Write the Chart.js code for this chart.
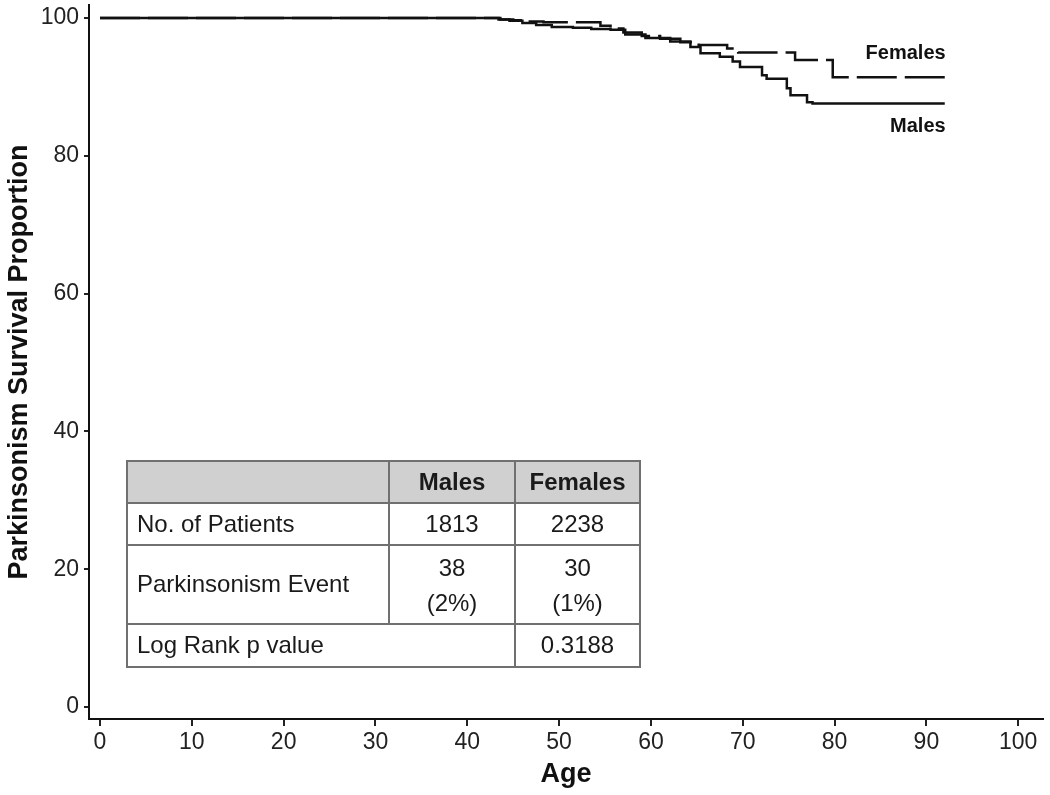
<!DOCTYPE html>
<html>
<head>
<meta charset="utf-8">
<script src="https://cdn.jsdelivr.net/npm/chart.js@4"></script>
<style>
  body { margin: 0; background: #fff; }
  #wrap { position: relative; width: 1050px; height: 795px; }
</style>
</head>
<body>
<div id="wrap"><canvas id="kmChart" width="1050" height="795"></canvas></div>
<script>
// Du lieu doc tu hinh (tuoi, ty le song sot)
const maleAges = [0, 43.4, 44.6, 46, 47.5, 49.2, 51.5, 53.5, 55.6, 57.2, 59.4, 62.1, 64.3, 65.4, 67.5, 68.9, 69.7, 72.1, 72.6, 74.8, 75.2, 77, 77.6, 92];
const maleSurv = [100, 99.8, 99.6, 99.3, 99.0, 98.7, 98.6, 98.4, 98.3, 97.6, 97.1, 96.6, 95.8, 94.9, 94.4, 93.7, 92.9, 91.7, 91.2, 89.8, 88.8, 87.8, 87.6, 87.6];
const femaleAges = [0, 43.6, 45, 46.5, 48.3, 54.5, 55.6, 57, 59, 61, 63.2, 65.2, 68.3, 69.5, 75.7, 79.8, 92];
const femaleSurv = [100, 99.8, 99.7, 99.5, 99.4, 98.9, 98.5, 97.9, 97.4, 97.0, 96.5, 96.1, 95.6, 95.0, 93.9, 91.4, 91.4];

const xTicks = [0, 10, 20, 30, 40, 50, 60, 70, 80, 90, 100];
const yTicks = [0, 20, 40, 60, 80, 100];

// Bang tom tat
const tableHeader = ["", "Males", "Females"];
const rowLabels = ["No. of Patients", "Parkinsonism Event", "Log Rank p value"];
const patients = ["1813", "2238"];
const events = ["38", "30"];
const eventPct = ["(2%)", "(1%)"];
const pValue = "0.3188";

const FONT = "'Liberation Sans', Arial, Helvetica, sans-serif";

function toPoints(xs, ys) {
    return xs.map((x, i) => ({ x: x, y: ys[i] }));
}

// Ve nhan duong va bang
const annotations = {
    id: "annotations",
    afterDraw(chart) {
        const ctx = chart.ctx;
        const xs = chart.scales.x;
        const ys = chart.scales.y;
        ctx.save();

        // nhan Females / Males
        ctx.fillStyle = "#111";
        ctx.font = "bold 20px " + FONT;
        ctx.textAlign = "right";
        ctx.textBaseline = "middle";
        ctx.fillText("Females", xs.getPixelForValue(92.1), ys.getPixelForValue(94.9));
        ctx.fillText("Males", xs.getPixelForValue(92.1), ys.getPixelForValue(84.2));

        // bang
        const colX = [127, 389, 515, 640];
        const rowY = [461, 503, 545, 624, 667];
        ctx.fillStyle = "#d0d0d0";
        ctx.fillRect(colX[0], rowY[0], colX[3] - colX[0], rowY[1] - rowY[0]);
        ctx.fillStyle = "#fff";
        ctx.fillRect(colX[0], rowY[1], colX[3] - colX[0], rowY[4] - rowY[1]);

        ctx.strokeStyle = "#707070";
        ctx.lineWidth = 2;
        ctx.strokeRect(colX[0], rowY[0], colX[3] - colX[0], rowY[4] - rowY[0]);
        ctx.beginPath();
        for (let r = 1; r < 4; r++) {
            ctx.moveTo(colX[0], rowY[r]);
            ctx.lineTo(colX[3], rowY[r]);
        }
        ctx.moveTo(colX[1], rowY[0]);
        ctx.lineTo(colX[1], rowY[3]);
        ctx.moveTo(colX[2], rowY[0]);
        ctx.lineTo(colX[2], rowY[4]);
        ctx.stroke();

        const mid = (a, b) => (a + b) / 2;
        ctx.fillStyle = "#1a1a1a";
        ctx.textBaseline = "middle";

        ctx.font = "bold 24px " + FONT;
        ctx.textAlign = "center";
        ctx.fillText(tableHeader[1], mid(colX[1], colX[2]), mid(rowY[0], rowY[1]) + 1);
        ctx.fillText(tableHeader[2], mid(colX[2], colX[3]), mid(rowY[0], rowY[1]) + 1);

        ctx.font = "24px " + FONT;
        ctx.textAlign = "left";
        ctx.fillText(rowLabels[0], colX[0] + 10, mid(rowY[1], rowY[2]) + 1);
        ctx.fillText(rowLabels[1], colX[0] + 10, mid(rowY[2], rowY[3]) + 1);
        ctx.fillText(rowLabels[2], colX[0] + 10, mid(rowY[3], rowY[4]) + 1);

        ctx.textAlign = "center";
        for (let c = 0; c < 2; c++) {
            const cx = mid(colX[c + 1], colX[c + 2]);
            ctx.fillText(patients[c], cx, mid(rowY[1], rowY[2]) + 1);
            ctx.fillText(events[c], cx, rowY[2] + 24);
            ctx.fillText(eventPct[c], cx, rowY[2] + 59);
        }
        ctx.fillText(pValue, mid(colX[2], colX[3]), mid(rowY[3], rowY[4]) + 1);

        ctx.restore();
    },
};

const ctx = document.getElementById("kmChart").getContext("2d");
const kmChart = new Chart(ctx, {
    type: "line",
    data: {
        datasets: [
            {
                label: "Males",
                data: toPoints(maleAges, maleSurv),
                borderColor: "#111",
                borderWidth: 2.5,
                pointRadius: 0,
                stepped: true,
                fill: false,
            },
            {
                label: "Females",
                data: toPoints(femaleAges, femaleSurv),
                borderColor: "#111",
                borderWidth: 2.5,
                borderDash: [40, 8],
                pointRadius: 0,
                stepped: true,
                fill: false,
            },
        ],
    },
    options: {
        responsive: false,
        animation: false,
        devicePixelRatio: 1,
        layout: { padding: { top: 5, right: 7, left: 0, bottom: 0 } },
        plugins: {
            legend: { display: false },
            tooltip: { enabled: false },
        },
        scales: {
            x: {
                type: "linear",
                min: -1.2,
                max: 102.7,
                afterBuildTicks: (s) => { s.ticks = xTicks.map((v) => ({ value: v })); },
                afterFit: (s) => { s.height = 76; s.paddingLeft = 0; s.paddingRight = 0; },
                border: { display: true, color: "#111", width: 2 },
                grid: { drawOnChartArea: false, drawTicks: true, tickLength: 7, tickColor: "#222", lineWidth: 2 },
                ticks: { color: "#222", padding: 3, font: { family: FONT, size: 23 }, maxRotation: 0 },
                title: {
                    display: true,
                    text: "Age",
                    color: "#111",
                    font: { family: FONT, size: 27, weight: "bold" },
                    padding: { top: 0, bottom: 4 },
                },
            },
            y: {
                type: "linear",
                min: -1.74,
                max: 101.9,
                afterBuildTicks: (s) => { s.ticks = yTicks.map((v) => ({ value: v })); },
                afterFit: (s) => { s.width = 89; s.paddingTop = 0; s.paddingBottom = 0; },
                border: { display: true, color: "#111", width: 2 },
                grid: { drawOnChartArea: false, drawTicks: true, tickLength: 5, tickColor: "#222", lineWidth: 2 },
                ticks: { color: "#222", padding: 5, font: { family: FONT, size: 23 } },
                title: {
                    display: true,
                    text: "Parkinsonism Survival Proportion",
                    color: "#111",
                    font: { family: FONT, size: 27, weight: "bold" },
                    padding: { top: 3, bottom: 0 },
                },
            },
        },
    },
    plugins: [annotations],
});
</script>
</body>
</html>
